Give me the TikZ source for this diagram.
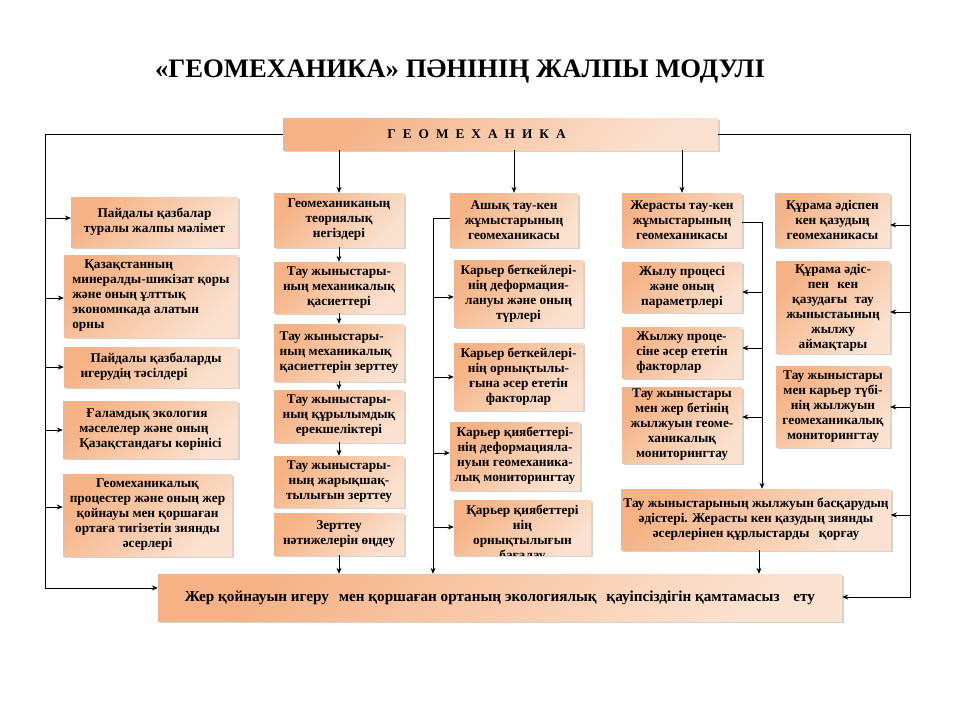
\documentclass[tikz,border=0pt]{standalone}
\usepackage{fontspec}
\setmainfont{Liberation Serif}
\usetikzlibrary{arrows.meta,shadows}
\definecolor{bxdark}{HTML}{F5B285}
\definecolor{bxlight}{HTML}{FBE2D0}
\begin{document}
\begin{tikzpicture}[x=1pt,y=-1pt,
  bx/.style={top color=bxdark, bottom color=bxlight, shading angle=45,
    inner sep=2pt, align=center,
    font=\bfseries\fontsize{13.3}{15}\selectfont,
    drop shadow={shadow xshift=2pt,shadow yshift=-2pt,opacity=0.35}},
  ln/.style={line width=0.9pt, black},
  arr/.style={ln,-{Stealth[length=6pt,width=5pt]}}]
\useasboundingbox[fill=white] (0,0) rectangle (960,720);

\node[font=\bfseries\fontsize{26.7}{30}\selectfont] (title) at (460,72) {«ГЕОМЕХАНИКА» ПӘНІНІҢ ЖАЛПЫ МОДУЛІ};

\node[bx, minimum width=435pt, minimum height=32pt] (top) at (500.5,134)
  {Г\hspace{7pt}Е\hspace{7pt}О\hspace{7pt}М\hspace{7pt}Е\hspace{7pt}Х\hspace{7pt}А\hspace{7pt}Н\hspace{7pt}И\hspace{7pt}К\hspace{7pt}А\hspace{48pt}};

% column 1
\node[bx, minimum width=167pt, minimum height=50pt] (c1a) at (154.5,222) {Пайдалы қазбалар\\туралы жалпы мәлімет};
\node[bx, minimum width=174pt, minimum height=82pt, align=left] (c1b) at (151,296) {\hspace{12pt}Қазақстанның\\минералды-шикізат қоры\\және оның ұлттық\\экономикада алатын\\орны};
\node[bx, minimum width=174pt, minimum height=40pt, align=left] (c1c) at (151,367) {\hspace{10pt}Пайдалы қазбаларды\\игерудің тәсілдері};
\node[bx, minimum width=175pt, minimum height=57pt, align=left] (c1d) at (150.5,429.5) {\hspace{7pt}Ғаламдық экология\\мәселелер және оның\\Қазақстандағы көрінісі};
\node[bx, minimum width=169pt, minimum height=82pt] (c1e) at (147.5,515) {Геомеханикалық\\процестер және оның жер\\қойнауы мен қоршаған\\ортаға тигізетін зиянды\\әсерлері};

% column 2
\node[bx, minimum width=130pt, minimum height=54pt] (c2a) at (339,220) {Геомеханиканың\\теориялық\\негіздері};
\node[bx, minimum width=130pt, minimum height=51pt] (c2b) at (339,287.5) {Тау жыныстары-\\ның механикалық\\қасиеттері};
\node[bx, minimum width=130pt, minimum height=57pt, align=left] (c2c) at (339,352.5) {Тау жыныстары-\\ның механикалық\\қасиеттерін зерттеу};
\node[bx, minimum width=130pt, minimum height=52pt] (c2d) at (339,416) {Тау жыныстары-\\ның құрылымдық\\ерекшеліктері};
\node[bx, minimum width=130pt, minimum height=51pt] (c2e) at (339,481.5) {Тау жыныстары-\\ның жарықшақ-\\тылығын зерттеу};
\node[bx, minimum width=130pt, minimum height=42pt] (c2f) at (339,534) {Зерттеу\\нәтижелерін өңдеу};

% column 3
\node[bx, minimum width=128pt, minimum height=54pt] (c3a) at (514,220) {Ашық тау-кен\\жұмыстарының\\геомеханикасы};
\node[bx, minimum width=129pt, minimum height=67pt] (c3b) at (518.5,293.5) {Карьер беткейлері-\\нің деформация-\\лануы және оның\\түрлері};
\node[bx, minimum width=129pt, minimum height=67pt] (c3c) at (518.5,376.5) {Карьер беткейлері-\\нің орнықтылы-\\ғына әсер ететін\\факторлар};
\node[bx, minimum width=130pt, minimum height=68pt] (c3d) at (515,456) {Карьер қиябеттері-\\нің деформацияла-\\нуын геомеханика-\\лық мониторингтау};
\node[bx, minimum width=137pt, minimum height=55pt] (c3e) at (522.5,527.5) {};
\begin{scope}
  \clip (c3e.south west) rectangle (c3e.north east);
  \node[font=\bfseries\fontsize{13.3}{15}\selectfont, align=center, anchor=north, yshift=-2pt] (c3etext) at (c3e.north) {Қарьер қиябеттері\\нің\\орнықтылығын\\бағалау};
\end{scope}

% column 4
\node[bx, minimum width=120pt, minimum height=54pt] (c4a) at (682,220) {Жерасты тау-кен\\жұмыстарының\\геомеханикасы};
\node[bx, minimum width=120pt, minimum height=50pt] (c4b) at (682,287) {Жылу процесі\\және оның\\параметрлері};
\node[bx, minimum width=120pt, minimum height=51pt, align=left] (c4c) at (682,352.5) {Жылжу проце-\\сіне әсер ететін\\факторлар};
\node[bx, minimum width=120pt, minimum height=76pt] (c4d) at (682,425) {Тау жыныстары\\мен жер бетінің\\жылжуын геоме-\\ханикалық\\мониторингтау};
\node[bx, minimum width=268pt, minimum height=61pt] (c4e) at (756,519.5) {Тау жыныстарының жылжуын басқарудың\\әдістері. Жерасты кен қазудың зиянды\\әсерлерінен құрлыстарды\hspace{6pt} қорғау};

% column 5
\node[bx, minimum width=115pt, minimum height=54pt] (c5a) at (832.5,220) {Құрама әдіспен\\кен қазудың\\геомеханикасы};
\node[bx, minimum width=114pt, minimum height=91pt] (c5b) at (833,307.5) {Құрама әдіс-\\пен\hspace{5pt} кен\\қазудағы\hspace{4pt} тау\\жыныстаының\\жылжу\\аймақтары};
\node[bx, minimum width=114pt, minimum height=81pt] (c5c) at (833,406.5) {Тау жыныстары\\мен карьер түбі-\\нің жылжуын\\геомеханикалық\\мониторингтау};

% bottom
\node[bx, minimum width=684pt, minimum height=47pt, font=\bfseries\fontsize{15.2}{17}\selectfont] (bot) at (500,597.5) {Жер қойнауын игеру\hspace{6pt} мен қоршаған ортаның экологиялық\hspace{6pt} қауіпсіздігін қамтамасыз\hspace{10pt} ету};

% left trunk
\coordinate (LT) at (45,134);
\coordinate (LB) at (45,588);
\draw[arr] (top.west |- LT) -- (LT) -- (LB) -- (LB -| bot.west);
\foreach \n/\yy in {c1a/218, c1b/298, c1c/367, c1d/430, c1e/507} {
  \coordinate (L\n) at (45,\yy);
  \draw[arr] (L\n) -- (L\n -| \n.west);
}

% right trunk
\coordinate (RT) at (910,134);
\coordinate (RB) at (910,597);
\draw[arr] (top.east |- RT) -- (RT) -- (RB) -- (RB -| bot.east);
\foreach \n/\yy in {c5a/225, c5b/312, c5c/407, c4e/515} {
  \coordinate (R\n) at (910,\yy);
  \draw[arr] (R\n) -- (R\n -| \n.east);
}

% top to columns
\draw[arr] (top.south -| c2a.north) -- (c2a.north);
\draw[arr] (top.south -| c3a.north) -- (c3a.north);
\draw[arr] (top.south -| c4a.north) -- (c4a.north);

% column 2 chain
\draw[arr] (c2a) -- (c2b);
\draw[arr] (c2b) -- (c2c);
\draw[arr] (c2c) -- (c2d);
\draw[arr] (c2d) -- (c2e);
\draw[arr] (c2f.south) -- (c2f.south |- bot.north);

% column 3 trunk
\coordinate (T3) at (433,218);
\draw[arr] (c3a.west |- T3) -- (T3) -- (T3 |- bot.north);
\foreach \n/\yy in {c3b/297, c3c/377, c3d/453, c3e/527} {
  \coordinate (T\n) at (433,\yy);
  \draw[arr] (T\n) -- (T\n -| \n.west);
}

% column 4 trunk
\coordinate (T4) at (762,222);
\draw[arr] (c4a.east |- T4) -- (T4) -- (T4 |- c4e.north);
\foreach \n/\yy in {c4b/292, c4c/348, c4d/417} {
  \coordinate (T\n) at (762,\yy);
  \draw[arr] (T\n) -- (T\n -| \n.east);
}
\draw[arr] (c4e.south -| 759,0) -- (bot.north -| 759,0);
\end{tikzpicture}
\end{document}
